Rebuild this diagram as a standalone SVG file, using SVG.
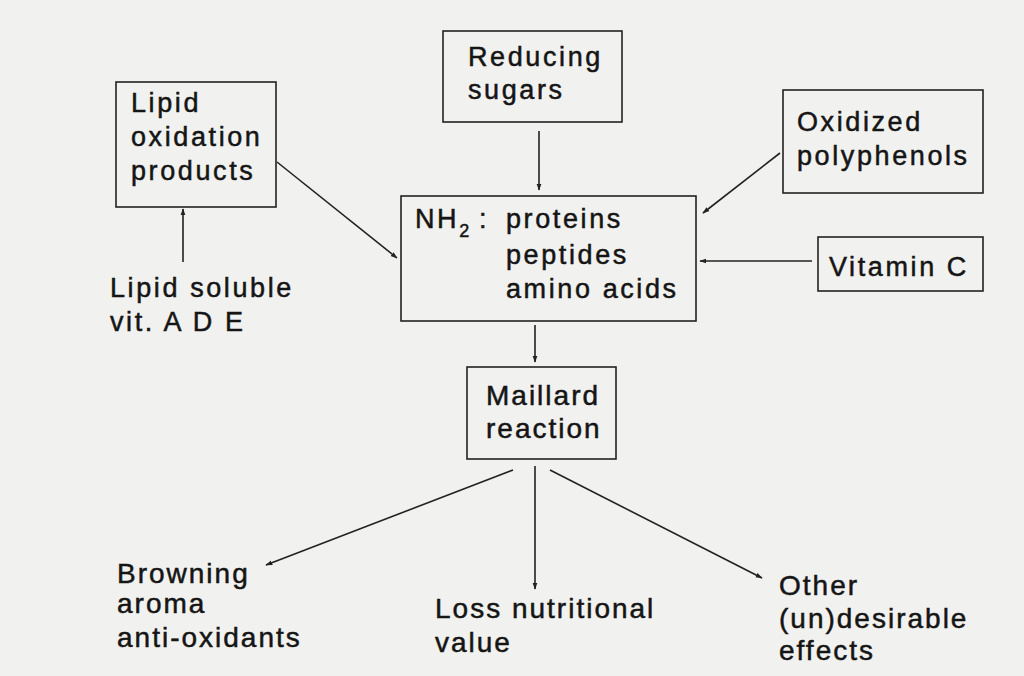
<svg xmlns="http://www.w3.org/2000/svg" width="1024" height="676" viewBox="0 0 1024 676">
<defs>
<style>
.bg{fill:#f1f1ef}
.box{fill:none;stroke:#222;stroke-width:1.6}
.t{font-family:"Liberation Sans",Arial,sans-serif;font-size:27px;fill:#151515;stroke:#151515;stroke-width:0.5;letter-spacing:2.6px}
.c{font-family:"Liberation Sans",Arial,sans-serif;font-size:28px;fill:#151515;stroke:#151515;stroke-width:0.5;letter-spacing:2px}
.ln{fill:none;stroke:#222;stroke-width:1.6;marker-end:url(#ah)}
</style>
<marker id="ah" viewBox="0 0 10 10" refX="9" refY="5" markerWidth="7" markerHeight="7" orient="auto" markerUnits="userSpaceOnUse">
<path d="M0,1.5 L10,5 L0,8.5 Z" fill="#222"/>
</marker>
</defs>
<rect class="bg" x="0" y="0" width="1024" height="676"/>
<g id="connectors">
<line class="ln" x1="277" y1="162" x2="397" y2="258"/>
<line class="ln" x1="183" y1="262" x2="183" y2="209"/>
<line class="ln" x1="539" y1="131" x2="539" y2="190"/>
<line class="ln" x1="780" y1="153" x2="703" y2="213"/>
<line class="ln" x1="812" y1="261" x2="700" y2="261"/>
<line class="ln" x1="535" y1="325" x2="535" y2="362"/>
<line class="ln" x1="513" y1="470" x2="266" y2="565"/>
<line class="ln" x1="535" y1="466" x2="535" y2="589"/>
<line class="ln" x1="550" y1="470" x2="762" y2="578"/>
</g>
<g id="lipid-oxidation">
<rect class="box" x="116" y="82" width="160" height="125"/>
<text class="t" x="131" y="112">Lipid</text>
<text class="t" x="131" y="146">oxidation</text>
<text class="t" x="131" y="180">products</text>
</g>
<g id="lipid-soluble">
<text class="t" x="110" y="297">Lipid soluble</text>
<text class="t" x="110" y="331">vit. A D E</text>
</g>
<g id="reducing-sugars">
<rect class="box" x="443" y="31" width="179" height="91"/>
<text class="t" x="468" y="66">Reducing</text>
<text class="t" x="468" y="99">sugars</text>
</g>
<g id="oxidized-polyphenols">
<rect class="box" x="783" y="90" width="200" height="103"/>
<text class="t" x="797" y="131">Oxidized</text>
<text class="t" x="797" y="165">polyphenols</text>
</g>
<g id="nh2">
<rect class="box" x="401" y="196" width="295" height="125"/>
<text class="t" x="415" y="228">NH<tspan font-size="18" dy="9">2</tspan></text>
<text class="t" x="479" y="228">:</text>
<text class="t" x="506" y="228">proteins</text>
<text class="t" x="506" y="264">peptides</text>
<text class="t" x="506" y="298">amino acids</text>
</g>
<g id="vitamin-c">
<rect class="box" x="818" y="237" width="165" height="54"/>
<text class="t" x="829" y="276">Vitamin C</text>
</g>
<g id="maillard">
<rect class="box" x="467" y="367" width="149" height="92"/>
<text class="c" x="486" y="405">Maillard</text>
<text class="c" x="486" y="438">reaction</text>
</g>
<g id="browning">
<text class="c" x="117" y="583">Browning</text>
<text class="c" x="117" y="613">aroma</text>
<text class="c" x="117" y="647">anti-oxidants</text>
</g>
<g id="loss">
<text class="c" x="435" y="618">Loss nutritional</text>
<text class="c" x="435" y="652">value</text>
</g>
<g id="other">
<text class="c" x="779" y="595">Other</text>
<text class="c" x="779" y="628">(un)desirable</text>
<text class="c" x="779" y="660">effects</text>
</g>
</svg>
